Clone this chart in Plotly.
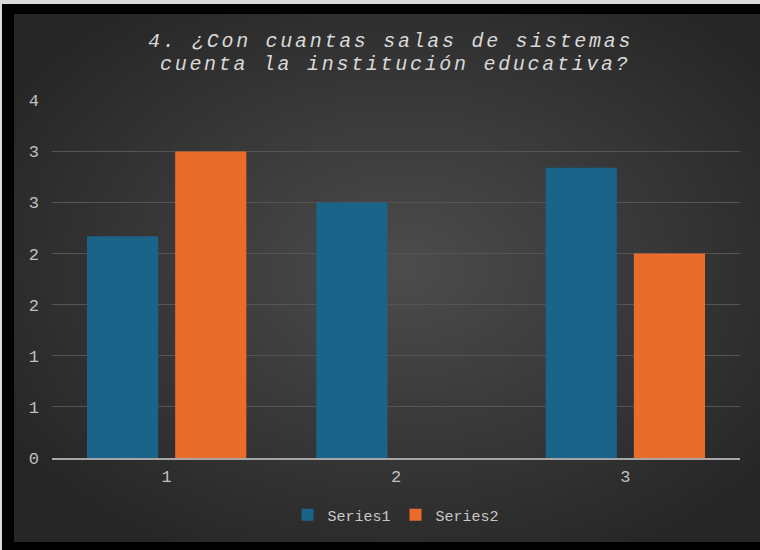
import base64
import plotly.graph_objects as go

categories = ["1", "2", "3"]
series1 = [2.17, 2.5, 2.84]
series2 = [3.0, 0.0, 2.0]
y_tickvals = [0, 0.5, 1, 1.5, 2, 2.5, 3, 3.5]
y_ticktext = ["0", "1", "1", "2", "2", "3", "3", "4"]
title_lines = ["4. ¿Con cuantas salas de sistemas", "cuenta la institución educativa?"]

W, H = 760, 550
ML, MR, MT, MB = 52, 20, 100, 92
PW = W - ML - MR
PH = H - MT - MB

def px_x(px):
    return (px - ML) / PW

def px_y(py):
    return (H - MB - py) / PH

svg = """<svg xmlns='http://www.w3.org/2000/svg' width='746' height='528' viewBox='0 0 746 528' preserveAspectRatio='none'>
<defs><radialGradient id='g' cx='52%' cy='48%' r='62%'>
<stop offset='0%' stop-color='#4c4c4c'/><stop offset='100%' stop-color='#262626'/></radialGradient></defs>
<rect width='746' height='528' fill='url(#g)'/></svg>"""
src = "data:image/svg+xml;base64," + base64.b64encode(svg.encode()).decode()

mono = "Liberation Mono, Courier New, monospace"

fig = go.Figure()
fig.add_trace(go.Bar(x=categories, y=series1, name="Series1",
                     marker=dict(color="#1a6489", line=dict(width=0))))
fig.add_trace(go.Bar(x=categories, y=series2, name="Series2",
                     marker=dict(color="#ea6c2a", line=dict(width=0))))

fig.update_layout(
    width=W, height=H,
    margin=dict(l=ML, r=MR, t=MT, b=MB),
    paper_bgcolor="#000000",
    plot_bgcolor="rgba(0,0,0,0)",
    barmode="group", bargap=0.231, bargroupgap=0.193,
    showlegend=True,
    legend=dict(orientation="h", x=0.5, xanchor="center", y=px_y(515), yanchor="middle",
                font=dict(family=mono, size=15, color="#c8c8c8"),
                bgcolor="rgba(0,0,0,0)", itemwidth=30, tracegroupgap=0),
    xaxis=dict(type="category", range=[-0.5, 2.5], showgrid=False, showline=True,
               linecolor="#a6a6a6", linewidth=2, ticks="", zeroline=False,
               tickfont=dict(family=mono, size=17, color="#c0c0c0"), ticklabelstandoff=2),
    yaxis=dict(range=[0, 3.503], tickvals=y_tickvals, ticktext=y_ticktext,
               showgrid=True, gridcolor="#555555", gridwidth=1, zeroline=False,
               showline=False, ticks="",
               tickfont=dict(family=mono, size=17, color="#c0c0c0"), ticklabelstandoff=12),
    images=[dict(source=src, xref="paper", yref="paper",
                 x=px_x(14), y=px_y(14), sizex=px_x(760) - px_x(14), sizey=px_y(14) - px_y(542),
                 xanchor="left", yanchor="top", sizing="stretch", layer="below")],
    shapes=[
        dict(type="rect", xref="paper", yref="paper", x0=px_x(0), x1=px_x(760),
             y0=px_y(4), y1=px_y(0), fillcolor="#d9d9d9", line=dict(width=0), layer="above"),
        dict(type="rect", xref="paper", yref="paper", x0=px_x(0), x1=px_x(2),
             y0=px_y(550), y1=px_y(0), fillcolor="#d9d9d9", line=dict(width=0), layer="above"),
    ],
    annotations=[
        dict(text="<span style='letter-spacing:2.7px'><i>" + title_lines[0] + "</i></span>",
             xref="paper", yref="paper",
             x=px_x(390), y=px_y(42), showarrow=False, xanchor="center", yanchor="middle",
             font=dict(family=mono, size=20, color="#d9d9d9")),
        dict(text="<span style='letter-spacing:2.7px'><i>" + title_lines[1] + "</i></span>",
             xref="paper", yref="paper",
             x=px_x(395), y=px_y(64), showarrow=False, xanchor="center", yanchor="middle",
             font=dict(family=mono, size=20, color="#d9d9d9")),
    ],
)

fig.write_html("out.html", config={"displayModeBar": False},
               post_script="document.body.style.margin='0';document.body.style.overflow='hidden';")
